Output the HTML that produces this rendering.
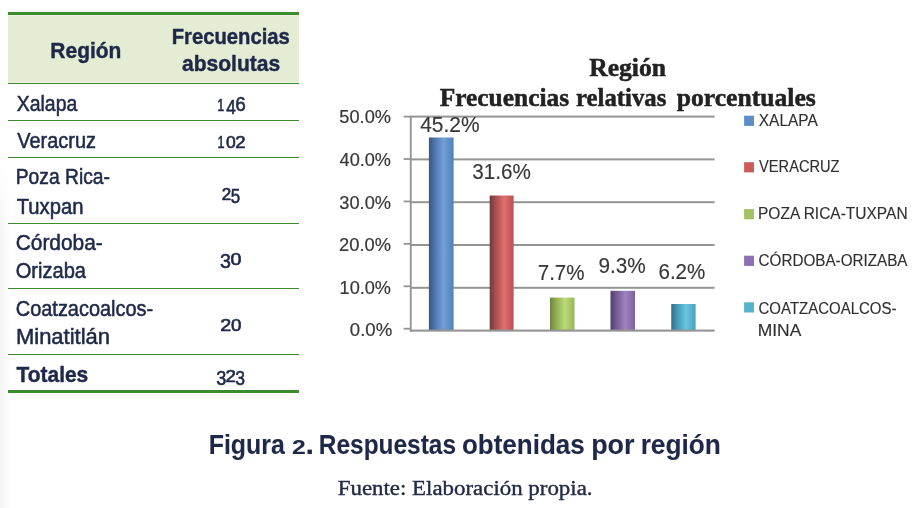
<!DOCTYPE html>
<html lang="es">
<head>
<meta charset="utf-8">
<title>Figura 2. Respuestas obtenidas por región</title>
<style>
html,body{margin:0;padding:0;background:#fff;}
body{width:921px;height:508px;overflow:hidden;position:relative;}
svg{position:absolute;left:0;top:0;display:block;}
text{font-family:"Liberation Sans",sans-serif;white-space:pre;stroke-linejoin:round;}
text.tb{font-weight:bold;fill:#1f2848;stroke:#1f2848;stroke-width:0.45px;}
text.tr{fill:#1f2848;stroke:#1f2848;stroke-width:0.55px;}
text.tn{fill:#1f2848;stroke:#1f2848;stroke-width:0.6px;}
text.cp{font-weight:bold;fill:#1f2848;stroke:#1f2848;stroke-width:0.1px;}
text.sr{font-family:"Liberation Serif",serif;fill:#232a45;stroke:#232a45;stroke-width:0.4px;}
text.ct{font-family:"Liberation Serif",serif;font-weight:bold;fill:#222;stroke:#222;stroke-width:0.5px;}
text.ax{fill:#383838;stroke:#383838;stroke-width:0.2px;}
text.dl{fill:#383838;stroke:#383838;stroke-width:0.15px;}
text.lg{fill:#303030;stroke:#303030;stroke-width:0.15px;}
</style>
</head>
<body>
<svg width="921" height="508" viewBox="0 0 921 508" role="img" aria-label="Figura 2. Respuestas obtenidas por región">
<defs>
<linearGradient id="shx" x1="0" x2="1" y1="0" y2="0"><stop offset="0" stop-color="#000" stop-opacity="0.046"/><stop offset="0.4" stop-color="#000" stop-opacity="0.028"/><stop offset="0.7" stop-color="#000" stop-opacity="0.014"/><stop offset="1" stop-color="#000" stop-opacity="0"/></linearGradient>
<linearGradient id="shy" x1="0" x2="0" y1="0" y2="1"><stop offset="0" stop-color="#fff" stop-opacity="1"/><stop offset="1" stop-color="#fff" stop-opacity="0"/></linearGradient>
<linearGradient id="gb1" x1="0" x2="1" y1="0" y2="0"><stop offset="0" stop-color="#3a5580"/><stop offset="0.25" stop-color="#4f78ad"/><stop offset="0.45" stop-color="#6490c8"/><stop offset="0.6" stop-color="#72a1d4"/><stop offset="0.8" stop-color="#608fc9"/><stop offset="1" stop-color="#5580b8"/></linearGradient>
<linearGradient id="gb2" x1="0" x2="1" y1="0" y2="0"><stop offset="0" stop-color="#6e3a3a"/><stop offset="0.25" stop-color="#a85050"/><stop offset="0.45" stop-color="#c66260"/><stop offset="0.6" stop-color="#de726e"/><stop offset="0.8" stop-color="#cb605d"/><stop offset="1" stop-color="#b85350"/></linearGradient>
<linearGradient id="gb3" x1="0" x2="1" y1="0" y2="0"><stop offset="0" stop-color="#6d8340"/><stop offset="0.25" stop-color="#93ae52"/><stop offset="0.45" stop-color="#a8c666"/><stop offset="0.6" stop-color="#bbd979"/><stop offset="0.8" stop-color="#aac965"/><stop offset="1" stop-color="#97b556"/></linearGradient>
<linearGradient id="gb4" x1="0" x2="1" y1="0" y2="0"><stop offset="0" stop-color="#4f4068"/><stop offset="0.25" stop-color="#755c95"/><stop offset="0.45" stop-color="#8a70ad"/><stop offset="0.6" stop-color="#9d85c0"/><stop offset="0.8" stop-color="#8c72b0"/><stop offset="1" stop-color="#7b629e"/></linearGradient>
<linearGradient id="gb5" x1="0" x2="1" y1="0" y2="0"><stop offset="0" stop-color="#2f6f88"/><stop offset="0.25" stop-color="#449ab6"/><stop offset="0.45" stop-color="#55b1ce"/><stop offset="0.6" stop-color="#6bc5df"/><stop offset="0.8" stop-color="#57b5d2"/><stop offset="1" stop-color="#48a1be"/></linearGradient>
</defs>
<rect x="0" y="165" width="10.5" height="343" fill="url(#shx)"/>
<rect x="0" y="165" width="10.5" height="70" fill="url(#shy)"/>
<rect x="8" y="15" width="291" height="68" fill="#e4edd3"/>
<rect x="8" y="15" width="291" height="1" fill="#edf2de"/>
<rect x="8" y="12" width="291" height="3" fill="#3d8b2f"/>
<rect x="8" y="390" width="291" height="3" fill="#3d8b2f"/>
<rect x="8" y="82" width="291" height="1" fill="#edf2de"/>
<rect x="8" y="83" width="291" height="1" fill="#3d8b2f"/>
<rect x="8" y="120" width="291" height="1" fill="#3d8b2f"/>
<rect x="8" y="157" width="291" height="1" fill="#3d8b2f"/>
<rect x="8" y="223" width="291" height="1" fill="#3d8b2f"/>
<rect x="8" y="288" width="291" height="1" fill="#3d8b2f"/>
<rect x="8" y="354" width="291" height="1" fill="#3d8b2f"/>
<rect x="403.6" y="115.70" width="7" height="1.8" fill="#949494"/>
<rect x="403.6" y="158.12" width="7" height="1.8" fill="#949494"/>
<rect x="403.6" y="200.54" width="7" height="1.8" fill="#949494"/>
<rect x="403.6" y="242.96" width="7" height="1.8" fill="#949494"/>
<rect x="403.6" y="285.38" width="7" height="1.8" fill="#949494"/>
<rect x="403.6" y="327.80" width="7" height="1.8" fill="#949494"/>
<rect x="410" y="115.60" width="304.6" height="2" fill="#949494"/>
<rect x="410" y="158.40" width="304.6" height="2" fill="#949494"/>
<rect x="410" y="201.20" width="304.6" height="2" fill="#949494"/>
<rect x="410" y="244.00" width="304.6" height="2" fill="#949494"/>
<rect x="410" y="286.80" width="304.6" height="2" fill="#949494"/>
<rect x="409.8" y="116" width="1.9" height="215.5" fill="#949494"/>
<rect x="428.9" y="137.5" width="24.70" height="192.70" fill="url(#gb1)"/>
<rect x="489.7" y="195.5" width="23.90" height="134.70" fill="url(#gb2)"/>
<rect x="550.0" y="297.6" width="24.50" height="32.60" fill="url(#gb3)"/>
<rect x="610.5" y="290.8" width="24.50" height="39.40" fill="url(#gb4)"/>
<rect x="671.25" y="304.0" width="24.35" height="26.20" fill="url(#gb5)"/>
<rect x="409.8" y="329.55" width="304.8" height="2.1" fill="#949494"/>
<rect x="744.1" y="115.7" width="9.9" height="10.2" fill="#5b8ec8"/>
<rect x="744.1" y="162.2" width="9.9" height="10.2" fill="#cb5c5b"/>
<rect x="744.1" y="209.1" width="9.9" height="10.2" fill="#a2c263"/>
<rect x="744.1" y="255.7" width="9.9" height="10.2" fill="#8c70b2"/>
<rect x="744.1" y="302.3" width="9.9" height="10.2" fill="#56b3cb"/>
<text class="tb" x="50.36" y="58.00" font-size="22.60" textLength="70.97" lengthAdjust="spacingAndGlyphs">Región</text>
<text class="tb" x="171.73" y="43.60" font-size="22.60" textLength="118.04" lengthAdjust="spacingAndGlyphs">Frecuencias</text>
<text class="tb" x="181.99" y="71.10" font-size="22.60" textLength="98.27" lengthAdjust="spacingAndGlyphs">absolutas</text>
<text class="tr" x="16.75" y="110.90" font-size="22.00" textLength="60.50" lengthAdjust="spacingAndGlyphs">Xalapa</text>
<text class="tr" x="17.25" y="147.65" font-size="22.00" textLength="78.75" lengthAdjust="spacingAndGlyphs">Veracruz</text>
<text class="tr" x="15.73" y="184.40" font-size="22.00" textLength="94.29" lengthAdjust="spacingAndGlyphs">Poza Rica-</text>
<text class="tr" x="16.75" y="213.65" font-size="22.00" textLength="66.77" lengthAdjust="spacingAndGlyphs">Tuxpan</text>
<text class="tr" x="15.74" y="250.15" font-size="22.00" textLength="87.03" lengthAdjust="spacingAndGlyphs">Córdoba-</text>
<text class="tr" x="15.74" y="278.40" font-size="22.00" textLength="70.25" lengthAdjust="spacingAndGlyphs">Orizaba</text>
<text class="tr" x="15.74" y="315.65" font-size="22.00" textLength="137.51" lengthAdjust="spacingAndGlyphs">Coatzacoalcos-</text>
<text class="tr" x="15.95" y="343.90" font-size="22.00" textLength="94.09" lengthAdjust="spacingAndGlyphs">Minatitlán</text>
<text class="tb" x="16.50" y="382.00" font-size="22.60" textLength="71.76" lengthAdjust="spacingAndGlyphs">Totales</text>
<text class="cp"><tspan x="208.68" y="453.75" font-size="27.40" textLength="76.07" lengthAdjust="spacingAndGlyphs">Figura</tspan> <tspan x="292.11" y="453.75" font-size="20.20" textLength="13.73" lengthAdjust="spacingAndGlyphs">2</tspan><tspan x="305.62" y="453.75" font-size="27.40" textLength="8.53" lengthAdjust="spacingAndGlyphs">.</tspan> <tspan x="318.82" y="453.75" font-size="27.40" textLength="137.20" lengthAdjust="spacingAndGlyphs">Respuestas</tspan> <tspan x="461.93" y="453.75" font-size="27.40" textLength="122.78" lengthAdjust="spacingAndGlyphs">obtenidas</tspan> <tspan x="591.17" y="453.75" font-size="27.40" textLength="43.39" lengthAdjust="spacingAndGlyphs">por</tspan> <tspan x="640.63" y="453.75" font-size="27.40" textLength="80.24" lengthAdjust="spacingAndGlyphs">región</tspan></text>
<text class="sr" x="337.75" y="495.00" font-size="21.90" textLength="254.76" lengthAdjust="spacingAndGlyphs">Fuente: Elaboración propia.</text>
<text class="ct" x="589.25" y="75.60" font-size="25.00" textLength="76.75" lengthAdjust="spacingAndGlyphs">Región</text>
<text class="ct"><tspan x="439.75" y="105.50" font-size="25.00" textLength="129.30" lengthAdjust="spacingAndGlyphs">Frecuencias</tspan> <tspan x="576.00" y="105.50" font-size="25.00" textLength="90.26" lengthAdjust="spacingAndGlyphs">relativas</tspan> <tspan x="676.80" y="105.50" font-size="25.00" textLength="138.95" lengthAdjust="spacingAndGlyphs">porcentuales</tspan></text>
<text class="ax" x="339.34" y="123.40" font-size="18.80" textLength="51.63" lengthAdjust="spacingAndGlyphs">50.0%</text>
<text class="ax" x="339.59" y="166.00" font-size="18.80" textLength="51.37" lengthAdjust="spacingAndGlyphs">40.0%</text>
<text class="ax" x="339.34" y="208.60" font-size="18.80" textLength="51.63" lengthAdjust="spacingAndGlyphs">30.0%</text>
<text class="ax" x="339.08" y="251.20" font-size="18.80" textLength="51.89" lengthAdjust="spacingAndGlyphs">20.0%</text>
<text class="ax" x="339.56" y="293.80" font-size="18.80" textLength="51.43" lengthAdjust="spacingAndGlyphs">10.0%</text>
<text class="ax" x="349.83" y="336.40" font-size="18.80" textLength="42.34" lengthAdjust="spacingAndGlyphs">0.0%</text>
<text class="dl" x="420.14" y="132.20" font-size="21.20" textLength="59.37" lengthAdjust="spacingAndGlyphs">45.2%</text>
<text class="dl" x="472.23" y="179.10" font-size="21.20" textLength="58.54" lengthAdjust="spacingAndGlyphs">31.6%</text>
<text class="dl" x="537.71" y="279.90" font-size="21.20" textLength="46.82" lengthAdjust="spacingAndGlyphs">7.7%</text>
<text class="dl" x="598.47" y="273.40" font-size="21.20" textLength="47.31" lengthAdjust="spacingAndGlyphs">9.3%</text>
<text class="dl" x="658.46" y="279.10" font-size="21.20" textLength="46.82" lengthAdjust="spacingAndGlyphs">6.2%</text>
<text class="lg" x="758.80" y="125.50" font-size="16.80" textLength="59.00" lengthAdjust="spacingAndGlyphs">XALAPA</text>
<text class="lg" x="759.05" y="171.80" font-size="16.80" textLength="80.50" lengthAdjust="spacingAndGlyphs">VERACRUZ</text>
<text class="lg" x="758.03" y="219.00" font-size="16.80" textLength="149.58" lengthAdjust="spacingAndGlyphs">POZA RICA-TUXPAN</text>
<text class="lg" x="758.55" y="265.80" font-size="16.80" textLength="148.95" lengthAdjust="spacingAndGlyphs">CÓRDOBA-ORIZABA</text>
<text class="lg" x="758.55" y="313.50" font-size="16.80" textLength="137.96" lengthAdjust="spacingAndGlyphs">COATZACOALCOS-</text>
<text class="lg" x="757.75" y="335.60" font-size="16.80" textLength="43.60" lengthAdjust="spacingAndGlyphs">MINA</text>
<text class="tn"><tspan x="217.13" y="110.75" font-size="16.20" textLength="7.04" lengthAdjust="spacingAndGlyphs">1</tspan><tspan x="226.19" y="113.85" font-size="20.81" textLength="9.62" lengthAdjust="spacingAndGlyphs">4</tspan><tspan x="235.35" y="110.75" font-size="20.81" textLength="10.53" lengthAdjust="spacingAndGlyphs">6</tspan></text>
<text class="tn"><tspan x="217.40" y="147.75" font-size="16.20" textLength="7.08" lengthAdjust="spacingAndGlyphs">1</tspan><tspan x="225.99" y="147.75" font-size="16.20" textLength="9.74" lengthAdjust="spacingAndGlyphs">0</tspan><tspan x="235.29" y="147.75" font-size="16.20" textLength="10.34" lengthAdjust="spacingAndGlyphs">2</tspan></text>
<text class="tn"><tspan x="221.65" y="200.00" font-size="16.20" textLength="9.47" lengthAdjust="spacingAndGlyphs">2</tspan><tspan x="230.66" y="203.10" font-size="20.81" textLength="9.44" lengthAdjust="spacingAndGlyphs">5</tspan></text>
<text class="tn"><tspan x="219.91" y="268.10" font-size="20.81" textLength="10.95" lengthAdjust="spacingAndGlyphs">3</tspan><tspan x="230.41" y="265.00" font-size="16.20" textLength="10.92" lengthAdjust="spacingAndGlyphs">0</tspan></text>
<text class="tn"><tspan x="220.38" y="330.75" font-size="16.20" textLength="10.99" lengthAdjust="spacingAndGlyphs">2</tspan><tspan x="230.90" y="330.75" font-size="16.20" textLength="10.42" lengthAdjust="spacingAndGlyphs">0</tspan></text>
<text class="tn"><tspan x="216.14" y="385.10" font-size="20.81" textLength="10.05" lengthAdjust="spacingAndGlyphs">3</tspan><tspan x="225.44" y="382.00" font-size="16.20" textLength="10.38" lengthAdjust="spacingAndGlyphs">2</tspan><tspan x="235.32" y="385.10" font-size="20.81" textLength="9.78" lengthAdjust="spacingAndGlyphs">3</tspan></text>
</svg>
</body>
</html>
